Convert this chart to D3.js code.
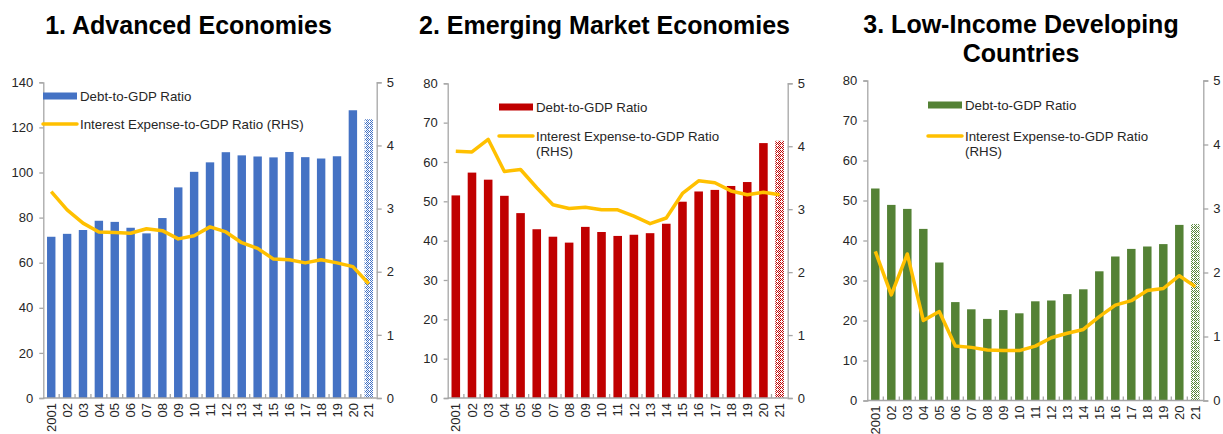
<!DOCTYPE html>
<html>
<head>
<meta charset="utf-8">
<script src="https://cdn.jsdelivr.net/npm/d3@7"></script>
<style>
  html, body { margin: 0; padding: 0; background: #fff; }
  svg { display: block; font-family: "Liberation Sans", Arial, sans-serif; }
</style>
</head>
<body>
<svg id="chart" width="1223" height="434"></svg>
<script>
// Years shown on the category axis
const years = ["2001","02","03","04","05","06","07","08","09","10","11","12","13","14","15","16","17","18","19","20","21"];

// Debt-to-GDP ratio (percent, left axis)
const aeDebt  = [71.5, 72.8, 74.5, 78.6, 78.1, 75.5, 73.0, 79.8, 93.4, 100.3, 104.5, 109.0, 107.6, 107.1, 106.7, 109.1, 106.8, 106.2, 107.2, 127.6, 123.6];
const emDebt  = [51.5, 57.3, 55.5, 51.4, 47.0, 42.9, 41.0, 39.5, 43.5, 42.2, 41.2, 41.5, 41.9, 44.3, 49.9, 52.5, 52.9, 53.9, 54.9, 64.8, 65.4];
const licDebt = [53.0, 48.9, 47.9, 42.9, 34.5, 24.6, 22.8, 20.4, 22.6, 21.8, 24.8, 25.0, 26.6, 27.8, 32.3, 36.0, 37.9, 38.5, 39.1, 43.9, 44.1];

// Interest expense-to-GDP ratio (percent, right axis)
const aeInterest  = [3.27, 2.98, 2.77, 2.63, 2.62, 2.61, 2.68, 2.65, 2.52, 2.57, 2.71, 2.63, 2.46, 2.37, 2.20, 2.19, 2.14, 2.19, 2.14, 2.08, 1.81];
const emInterest  = [3.92, 3.91, 4.11, 3.60, 3.63, 3.34, 3.07, 3.01, 3.03, 2.99, 2.99, 2.89, 2.77, 2.86, 3.25, 3.45, 3.42, 3.29, 3.23, 3.27, 3.23];
const licInterest = [2.33, 1.65, 2.29, 1.25, 1.39, 0.85, 0.83, 0.79, 0.78, 0.78, 0.85, 0.98, 1.05, 1.11, 1.31, 1.49, 1.56, 1.72, 1.75, 1.95, 1.78];

// Axis ticks
const aeTicks  = [0, 20, 40, 60, 80, 100, 120, 140];
const emTicks  = [0, 10, 20, 30, 40, 50, 60, 70, 80];
const licTicks = [0, 10, 20, 30, 40, 50, 60, 70, 80];
const rhsTicks = [0, 1, 2, 3, 4, 5];

// Titles and legend labels
const titles = [["1. Advanced Economies"], ["2. Emerging Market Economies"], ["3. Low-Income Developing", "Countries"]];
const barLabel = "Debt-to-GDP Ratio";
const lineLabelOneLine = ["Interest Expense-to-GDP Ratio (RHS)"];
const lineLabelTwoLines = ["Interest Expense-to-GDP Ratio", "(RHS)"];

const svg = d3.select("#chart");
const defs = svg.append("defs");
const axisGrey = "#a6a6a6";
const textCol = "#262626";
const lineCol = "#FFC000";

// Dotted fill for the projected year
function makePattern(id, color) {
  const p = defs.append("pattern")
    .attr("id", id).attr("width", 4).attr("height", 4)
    .attr("patternUnits", "userSpaceOnUse");
  p.append("rect").attr("width", 4).attr("height", 4).attr("fill", "#fff");
  [[0,0],[2,0],[1,1],[3,1],[0,2],[2,2],[1,3],[3,3]].forEach(([x, y]) =>
    p.append("rect").attr("x", x).attr("y", y).attr("width", 1).attr("height", 1).attr("fill", color));
  p.append("rect").attr("x", 1).attr("y", 1).attr("width", 1).attr("height", 1).attr("fill", "#fff").attr("opacity", 0.9);
}

const panels = [
  { debt: aeDebt, interest: aeInterest, ticks: aeTicks, max: 140, color: "#4472C4", pat: "pat-ae",
    box: { l: 43.3, r: 376.7, t: 82.3, b: 398 }, title: titles[0], titleX: 188.5, titleY: 34,
    legend: { x: 43, barY: 96, lineY: 124, lines: lineLabelOneLine } },
  { debt: emDebt, interest: emInterest, ticks: emTicks, max: 80, color: "#C00000", pat: "pat-em",
    box: { l: 447.7, r: 787.7, t: 83.3, b: 398 }, title: titles[1], titleX: 604.5, titleY: 34,
    legend: { x: 499, barY: 107, lineY: 136, lines: lineLabelTwoLines } },
  { debt: licDebt, interest: licInterest, ticks: licTicks, max: 80, color: "#548235", pat: "pat-lic",
    box: { l: 867.3, r: 1203.3, t: 80.5, b: 400.5 }, title: titles[2], titleX: 1021, titleY: 33,
    legend: { x: 928, barY: 105, lineY: 136, lines: lineLabelTwoLines } }
];

panels.forEach(p => {
  makePattern(p.pat, p.color);
  const { l, r, t, b } = p.box;
  const g = svg.append("g");

  const x = d3.scaleBand().domain(years).range([l, r]).paddingInner(0.47).paddingOuter(0.235);
  const yL = d3.scaleLinear().domain([0, p.max]).range([b, t]);
  const yR = d3.scaleLinear().domain([0, 5]).range([b, t]);

  // Title
  const title = g.append("text")
    .attr("x", p.titleX).attr("y", p.titleY)
    .attr("text-anchor", "middle")
    .attr("font-size", 25).attr("font-weight", "bold").attr("fill", "#000");
  p.title.forEach((s, i) => title.append("tspan").attr("x", p.titleX).attr("dy", i === 0 ? 0 : 29).text(s));

  // Bars
  g.selectAll("rect.bar").data(p.debt).join("rect")
    .attr("class", "bar")
    .attr("x", (d, i) => x(years[i]))
    .attr("width", x.bandwidth())
    .attr("y", d => yL(d))
    .attr("height", d => b - yL(d))
    .attr("fill", (d, i) => i === years.length - 1 ? `url(#${p.pat})` : p.color);

  // Left axis
  const axL = g.append("g").attr("transform", `translate(${l},0)`)
    .call(d3.axisLeft(yL).tickValues(p.ticks).tickSize(4).tickPadding(6).tickFormat(d3.format("d")));
  // Right axis
  const axR = g.append("g").attr("transform", `translate(${r},0)`)
    .call(d3.axisRight(yR).tickValues(rhsTicks).tickSize(5).tickPadding(5).tickFormat(d3.format("d")));
  [axL, axR].forEach(ax => {
    ax.select(".domain").attr("stroke", axisGrey).attr("stroke-width", 1.3);
    ax.selectAll(".tick line").attr("stroke", axisGrey).attr("stroke-width", 1.3);
    ax.selectAll(".tick text").attr("font-size", 13).attr("fill", textCol)
      .attr("font-family", "'Liberation Sans', Arial, sans-serif");
  });

  // Category axis: baseline, ticks between categories, rotated year labels
  g.append("line").attr("x1", l).attr("x2", r).attr("y1", b).attr("y2", b)
    .attr("stroke", axisGrey).attr("stroke-width", 1.3);
  g.selectAll("line.xtick").data(years.slice(1)).join("line")
    .attr("class", "xtick")
    .attr("x1", d => x(d) - x.step() * x.paddingInner() / 2)
    .attr("x2", d => x(d) - x.step() * x.paddingInner() / 2)
    .attr("y1", b).attr("y2", b - 4)
    .attr("stroke", axisGrey).attr("stroke-width", 1.3);
  g.selectAll("text.xlab").data(years).join("text")
    .attr("class", "xlab")
    .attr("transform", d => `translate(${x(d) + x.bandwidth() / 2},${b + 5}) rotate(-90)`)
    .attr("text-anchor", "end").attr("dy", "0.36em")
    .attr("font-size", 13).attr("fill", textCol)
    .text(d => d);

  // Interest expense line
  const line = d3.line()
    .x((d, i) => x(years[i]) + x.bandwidth() / 2)
    .y(d => yR(d));
  g.append("path").datum(p.interest)
    .attr("d", line).attr("fill", "none")
    .attr("stroke", lineCol).attr("stroke-width", 3.5)
    .attr("stroke-linejoin", "round");

  // Legend
  const lg = p.legend;
  g.append("rect").attr("x", lg.x).attr("y", lg.barY - 3.5).attr("width", 34).attr("height", 7).attr("fill", p.color);
  g.append("text").attr("x", lg.x + 37).attr("y", lg.barY).attr("dy", "0.35em")
    .attr("font-size", 13.3).attr("fill", textCol).text(barLabel);
  g.append("line").attr("x1", lg.x).attr("x2", lg.x + 34).attr("y1", lg.lineY).attr("y2", lg.lineY)
    .attr("stroke", lineCol).attr("stroke-width", 3.5).attr("stroke-linecap", "round");
  const lt = g.append("text").attr("x", lg.x + 37).attr("y", lg.lineY).attr("dy", "0.35em")
    .attr("font-size", 13.3).attr("fill", textCol);
  lg.lines.forEach((s, i) => lt.append("tspan").attr("x", lg.x + 37).attr("dy", i === 0 ? "0.35em" : 15.5).text(s));
});
</script>
</body>
</html>
